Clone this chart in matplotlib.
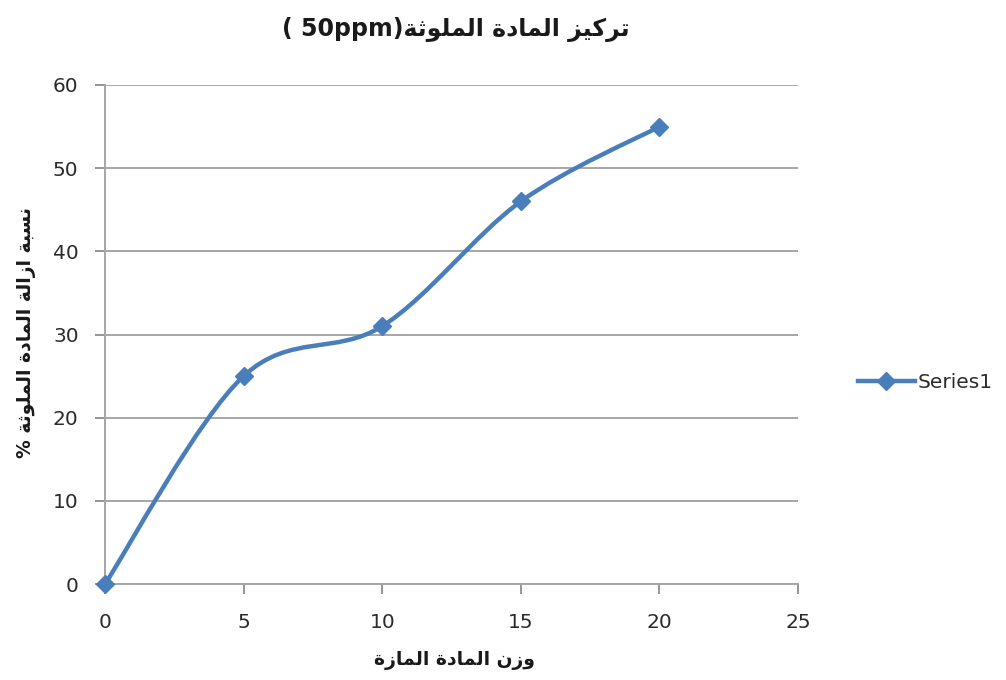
import numpy as np
import matplotlib
matplotlib.use("Agg")
import matplotlib.pyplot as plt
from matplotlib.path import Path
from matplotlib.patches import PathPatch
from matplotlib.lines import Line2D

# ---- data ----
x_vals = [0, 5, 10, 15, 20]
y_vals = [0, 25, 31, 46, 55]
series_name = "Series1"
title_ar = "تركيز المادة الملوثة"
title_latin = "( 50ppm)"
xlabel_ar = "وزن المادة المازة"
ylabel_ar = "نسبة ازالة المادة الملوثة %"
x_ticks = [0, 5, 10, 15, 20, 25]
y_ticks = [0, 10, 20, 30, 40, 50, 60]

# ---- simple Arabic shaping (presentation forms) ----
FORMS = {
    'ا': ('\uFE8D', '\uFE8E', None, None),
    'ب': ('\uFE8F', '\uFE90', '\uFE91', '\uFE92'),
    'ة': ('\uFE93', '\uFE94', None, None),
    'ت': ('\uFE95', '\uFE96', '\uFE97', '\uFE98'),
    'ث': ('\uFE99', '\uFE9A', '\uFE9B', '\uFE9C'),
    'د': ('\uFEA9', '\uFEAA', None, None),
    'ر': ('\uFEAD', '\uFEAE', None, None),
    'ز': ('\uFEAF', '\uFEB0', None, None),
    'س': ('\uFEB1', '\uFEB2', '\uFEB3', '\uFEB4'),
    'ك': ('\uFED9', '\uFEDA', '\uFEDB', '\uFEDC'),
    'ل': ('\uFEDD', '\uFEDE', '\uFEDF', '\uFEE0'),
    'م': ('\uFEE1', '\uFEE2', '\uFEE3', '\uFEE4'),
    'ن': ('\uFEE5', '\uFEE6', '\uFEE7', '\uFEE8'),
    'و': ('\uFEED', '\uFEEE', None, None),
    'ي': ('\uFEF1', '\uFEF2', '\uFEF3', '\uFEF4'),
}


def joins_left(c):
    return c in FORMS and FORMS[c][2] is not None


def shape_word(s):
    out = []
    n = len(s)
    for i, c in enumerate(s):
        if c not in FORMS:
            out.append(c)
            continue
        prev_j = i > 0 and joins_left(s[i - 1])
        next_j = i < n - 1 and s[i + 1] in FORMS and joins_left(c)
        iso, fin, ini, med = FORMS[c]
        if prev_j and next_j:
            out.append(med)
        elif prev_j:
            out.append(fin)
        elif next_j:
            out.append(ini)
        else:
            out.append(iso)
    return ''.join(out)


def visual(s):
    return shape_word(s)[::-1]


def visual_line(s):
    return ' '.join(visual(w) for w in s.split()[::-1])


# ---- figure ----
fig = plt.figure(figsize=(10.06, 6.8), dpi=100)
ax = fig.add_axes([105 / 1006, 1 - 584 / 680, 693 / 1006, 499 / 680])

grid_c = '#A6A6A6'
ax.set_xlim(0, 25)
ax.set_ylim(0, 60)
ax.set_xticks(x_ticks)
ax.set_yticks(y_ticks)
ax.yaxis.grid(True, color=grid_c, linewidth=1.4)
ax.set_axisbelow(True)
for sp in ['top', 'right']:
    ax.spines[sp].set_visible(False)
for sp in ['left', 'bottom']:
    ax.spines[sp].set_color(grid_c)
    ax.spines[sp].set_linewidth(1.4)
ax.tick_params(axis='both', direction='out', length=7, width=1.3, color='#8c8c8c',
               labelsize=14.5, labelcolor='#2b2b2b')
ax.tick_params(axis='y', pad=12)
ax.tick_params(axis='x', pad=14)

# smooth (Excel-like) curve through points using cubic Bezier segments
line_c = '#4A7EBB'
pts = np.column_stack([x_vals, y_vals]).astype(float)
verts = [tuple(pts[0])]
codes = [Path.MOVETO]
n = len(pts)
for i in range(n - 1):
    p0 = pts[i - 1] if i > 0 else pts[i]
    p1 = pts[i]
    p2 = pts[i + 1]
    p3 = pts[i + 2] if i + 2 < n else pts[i + 1]
    c1 = p1 + (p2 - p0) / 6.0
    c2 = p2 - (p3 - p1) / 6.0
    verts += [tuple(c1), tuple(c2), tuple(p2)]
    codes += [Path.CURVE4] * 3
patch = PathPatch(Path(verts, codes), facecolor='none', edgecolor=line_c,
                  linewidth=3.2, capstyle='round', joinstyle='round', zorder=3)
ax.add_patch(patch)
ax.plot(x_vals, y_vals, linestyle='none', marker='D', markersize=9.5,
        color=line_c, zorder=4, clip_on=False)

# titles / labels
fig.text(456 / 1006, 1 - 30 / 680, title_latin + visual(title_ar),
         ha='center', va='center', fontsize=17, fontweight='bold',
         family='DejaVu Sans', color='#1a1a1a')
fig.text(455 / 1006, 1 - 660 / 680, visual_line(xlabel_ar),
         ha='center', va='center', fontsize=13.5, fontweight='bold',
         family='DejaVu Sans', color='#1a1a1a')
fig.text(27 / 1006, 1 - 333 / 680, visual_line(ylabel_ar), rotation=90,
         ha='center', va='center', fontsize=13.5, fontweight='bold',
         family='DejaVu Sans', color='#1a1a1a')

# legend
handle = Line2D([0], [0], color=line_c, linewidth=3.2, marker='D', markersize=9.5)
leg = fig.legend([handle], [series_name], loc='center left',
                 bbox_to_anchor=(840 / 1006, 1 - 383 / 680), frameon=False,
                 fontsize=14.5, handlelength=2.8, handletextpad=0.15,
                 labelcolor='#2b2b2b')

fig.savefig('out.png', dpi=100, facecolor='white')
